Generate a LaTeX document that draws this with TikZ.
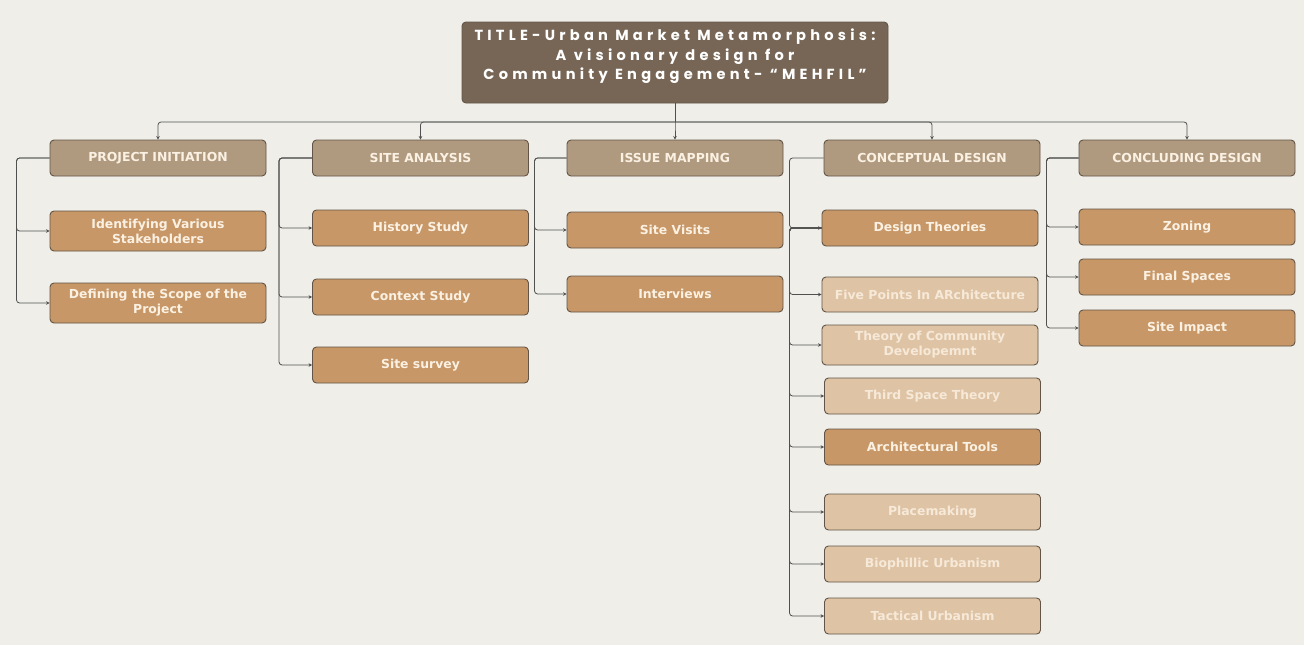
\documentclass[tikz,border=0pt]{standalone}
\usepackage{fontspec}
\setmainfont{DejaVu Sans}
\newfontfamily\titlefont[LetterSpace=29]{Poppins Bold}
\usetikzlibrary{arrows.meta}
\definecolor{bgc}{HTML}{EFEEE8}
\definecolor{titlefill}{HTML}{776655}
\definecolor{headfill}{HTML}{B09A7F}
\definecolor{childfill}{HTML}{C79767}
\definecolor{lightfill}{HTML}{DFC3A5}
\definecolor{boxline}{HTML}{625547}
\definecolor{txtc}{HTML}{FBF1E3}
\definecolor{lighttxt}{HTML}{F6E9D8}
\definecolor{linec}{HTML}{505050}
\tikzset{
  base/.style={draw=boxline, line width=0.9pt, rounded corners=4pt, inner sep=1pt,
    align=center, font=\bfseries\fontsize{12.4}{15}\selectfont, text=txtc},
  titlebox/.style={base, fill=titlefill, minimum width=426pt, minimum height=81pt},
  titletxt/.style={align=center, inner sep=0pt, text=white,
    font=\titlefont\fontsize{14.6}{19.5}\selectfont},
  headbox/.style={base, fill=headfill, minimum width=216pt, minimum height=36pt},
  childbox/.style={base, fill=childfill, minimum width=216pt, minimum height=36pt},
  lightbox/.style={base, fill=lightfill, minimum width=216pt, minimum height=36pt, text=lighttxt},
  conn/.style={draw=linec, line width=0.8pt, rounded corners=3pt},
  arr/.style={conn, -{Stealth[length=3.5pt,width=3.5pt]}},
}
\begin{document}
\begin{tikzpicture}[x=1pt,y=-1pt]
\fill[bgc] (0,0) rectangle (1304,645);
\useasboundingbox (0,0) rectangle (1304,645);

\node[titlebox, label={[titletxt, yshift=6pt]center:{TITLE-Urban Market Metamorphosis:\\A visionary design for\\Community Engagement- “MEHFIL”}}] (title) at (675,62.5) {};

\node[headbox] (h1) at (158,158) {PROJECT INITIATION};
\node[headbox] (h2) at (420.5,158) {SITE ANALYSIS};
\node[headbox] (h3) at (675,158) {ISSUE MAPPING};
\node[headbox] (h4) at (932,158) {CONCEPTUAL DESIGN};
\node[headbox] (h5) at (1187,158) {CONCLUDING DESIGN};

\node[childbox, minimum height=40pt] (c11) at (158,231) {Identifying Various\\Stakeholders};
\node[childbox, minimum height=40pt] (c12) at (158,303) {Defining the Scope of the\\Project};

\node[childbox] (c21) at (420.5,228) {History Study};
\node[childbox] (c22) at (420.5,297) {Context Study};
\node[childbox] (c23) at (420.5,365) {Site survey};

\node[childbox] (c31) at (675,230) {Site Visits};
\node[childbox] (c32) at (675,294) {Interviews};

\node[childbox] (c41) at (930,228) {Design Theories};
\node[lightbox, minimum height=35pt] (c42) at (930,294.5) {Five Points In ARchitecture};
\node[lightbox, minimum height=40pt] (c43) at (930,345) {Theory of Community\\Developemnt};
\node[lightbox] (c44) at (932.5,396) {Third Space Theory};
\node[childbox] (c45) at (932.5,447) {Architectural Tools};
\node[lightbox] (c46) at (932.5,512) {Placemaking};
\node[lightbox] (c47) at (932.5,564) {Biophillic Urbanism};
\node[lightbox] (c48) at (932.5,616) {Tactical Urbanism};

\node[childbox] (c51) at (1187,227) {Zoning};
\node[childbox] (c52) at (1187,277) {Final Spaces};
\node[childbox] (c53) at (1187,328) {Site Impact};

% top bus
\coordinate (bus) at (675,122);
\draw[conn] (title.south) -- (bus);
\foreach \h in {h1,h2,h3,h4,h5}{
  \draw[arr] (bus) -| (\h.north);
}

% column connectors
\foreach \c in {c11,c12}{ \draw[arr] (h1.west) -- ++(-33,0) |- (\c.west); }
\foreach \c in {c21,c22,c23}{ \draw[arr] (h2.west) -- ++(-33,0) |- (\c.west); }
\foreach \c in {c31,c32}{ \draw[arr] (h3.west) -- ++(-32,0) |- (\c.west); }
\draw[arr] (h4.west) -- ++(-34,0) |- (c41.west);
\foreach \c in {c42,c43,c44,c45,c46,c47,c48}{ \draw[arr] (c41.west) -- ++(-32,0) |- (\c.west); }
\foreach \c in {c51,c52,c53}{ \draw[arr] (h5.west) -- ++(-32,0) |- (\c.west); }
\end{tikzpicture}
\end{document}
